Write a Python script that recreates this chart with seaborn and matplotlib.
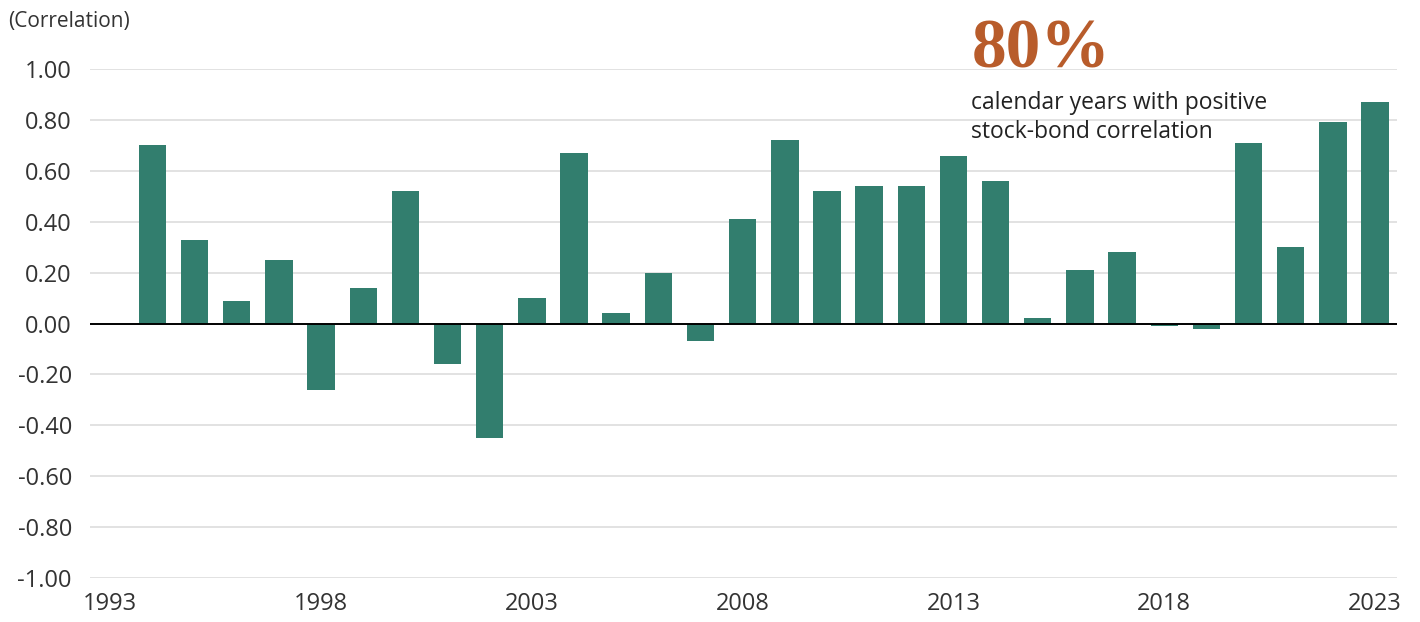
import matplotlib
matplotlib.use("Agg")
import matplotlib.pyplot as plt
import seaborn as sns
import numpy as np

# yearly stock-bond correlation
years = [1994, 1995, 1996, 1997, 1998, 1999, 2000, 2001, 2002, 2003,
         2004, 2005, 2006, 2007, 2008, 2009, 2010, 2011, 2012, 2013,
         2014, 2015, 2016, 2017, 2018, 2019, 2020, 2021, 2022, 2023]
corr = [0.70, 0.33, 0.09, 0.25, -0.26, 0.14, 0.52, -0.16, -0.45, 0.10,
        0.67, 0.04, 0.20, -0.07, 0.41, 0.72, 0.52, 0.54, 0.54, 0.66,
        0.56, 0.02, 0.21, 0.28, -0.01, -0.02, 0.71, 0.30, 0.79, 0.87]
xticks = [1993, 1998, 2003, 2008, 2013, 2018, 2023]
yticks = [-1.0, -0.8, -0.6, -0.4, -0.2, 0.0, 0.2, 0.4, 0.6, 0.8, 1.0]

BAR = "#327E6E"
TXT = "#333333"

sns.set_style("white")
plt.rcParams['font.family'] = ['Open Sans', 'DejaVu Sans']

fig = plt.figure(figsize=(14.2, 6.22), dpi=100)
ax = fig.add_axes([0.0634, 0.0707, 0.9204, 0.8183])

for y in yticks:
    ax.axhline(y, color="#DADADA", lw=1.1, zorder=0)

sns.barplot(x=years, y=corr, native_scale=True, color=BAR, saturation=1,
            width=0.65, linewidth=0, ax=ax, zorder=2)
ax.axhline(0, color="black", lw=1.4, zorder=3)

ax.set_xlim(1992.52, 2023.52)
ax.set_ylim(-1.0, 1.0)
ax.set_xticks(xticks)
ax.set_xticklabels([str(x) for x in xticks])
ax.set_yticks(yticks)
ax.set_yticklabels([f"{round(v, 2) + 0.0:.2f}" for v in yticks])
ax.tick_params(axis="both", length=0, labelsize=17, colors=TXT)
ax.tick_params(axis="y", pad=13)
ax.tick_params(axis="x", pad=10)
ax.set_xlabel("")
ax.set_ylabel("")
sns.despine(ax=ax, left=True, bottom=True)

fig.text(0.006, 0.965, "(Correlation)", fontsize=15, color=TXT, va="center", ha="left")
fig.text(0.684, 0.892, "80%", fontsize=50, fontweight="bold", color="#B85C2B",
         family=["Liberation Serif", "DejaVu Serif"], va="baseline", ha="left")
fig.text(0.684, 0.835, "calendar years with positive", fontsize=16.5, color="#222222",
         va="center", ha="left")
fig.text(0.684, 0.787, "stock-bond correlation", fontsize=16.5, color="#222222",
         va="center", ha="left")

plt.savefig("out.png", dpi=100)
plt.close()
